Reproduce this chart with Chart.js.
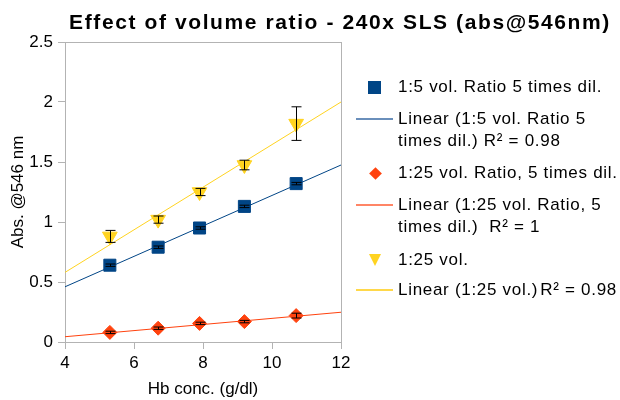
<!DOCTYPE html>
<html>
<head>
<meta charset="utf-8">
<script src="https://cdn.jsdelivr.net/npm/chart.js@4/dist/chart.umd.min.js"></script>
<style>
  html, body { margin: 0; padding: 0; background: #fff; }
  #wrap { position: relative; width: 620px; height: 400px; overflow: hidden;
          font-family: "Liberation Sans", Arial, sans-serif; color: #000; }
  #chart { position: absolute; left: 0; top: 0; }
  #title { position: absolute; left: 0; width: 680px; top: 10px; text-align: center;
           font-weight: bold; font-size: 21px; line-height: 24px; letter-spacing: 1.6px; }
  .item { position: absolute; left: 398px; font-size: 17px; line-height: 22px;
          letter-spacing: 0.7px; white-space: nowrap; }
  .mk { position: absolute; }
</style>
</head>
<body>
<div id="wrap">
  <canvas id="chart" width="620" height="400"></canvas>
  <div id="title">Effect of volume ratio - 240x SLS (abs@546nm)</div>
  <div id="legend"></div>
</div>
<script>
// data
const hb = [5.3, 6.7, 7.9, 9.2, 10.7];
const ratio5 = [0.64, 0.79, 0.95, 1.13, 1.32];
const ratio5Err = [0.01, 0.01, 0.01, 0.01, 0.01];
const ratio25dil = [0.08, 0.115, 0.155, 0.17, 0.22];
const ratio25dilErr = [0.01, 0.01, 0.01, 0.01, 0.02];
const ratio25 = [0.88, 1.02, 1.25, 1.475, 1.82];
const ratio25Err = [0.05, 0.03, 0.03, 0.04, 0.14];

// trend line end points (x = 4 and x = 12)
const trendX = [4, 12];
const trend5 = [0.46, 1.475];
const trend25dil = [0.044, 0.248];
const trend25 = [0.58, 2.0];

const blue = "#004586", red = "#ff420e", yellow = "#ffd320";

function pts(xs, ys) {
    return xs.map((x, i) => ({ x: x, y: ys[i] }));
}

// border round the plot area
const frame = {
    id: "frame",
    beforeDatasetsDraw(chart) {
        const a = chart.chartArea, ctx = chart.ctx;
        ctx.save();
        ctx.strokeStyle = "#b3b3b3";
        ctx.lineWidth = 1;
        ctx.strokeRect(a.left + 0.5, a.top + 0.5, a.right - a.left, a.bottom - a.top);
        ctx.restore();
    }
};

// vertical error bars
const errorBars = {
    id: "errorBars",
    afterDatasetsDraw(chart) {
        const ctx = chart.ctx, xs = chart.scales.x, ys = chart.scales.y;
        ctx.save();
        ctx.strokeStyle = "#000";
        ctx.lineWidth = 1;
        chart.data.datasets.forEach(ds => {
            if (!ds.err) return;
            ds.data.forEach((p, i) => {
                const px = Math.round(xs.getPixelForValue(p.x)) + 0.5;
                const top = ys.getPixelForValue(p.y + ds.err[i]);
                const bot = ys.getPixelForValue(p.y - ds.err[i]);
                ctx.beginPath();
                ctx.moveTo(px, top); ctx.lineTo(px, bot);
                ctx.moveTo(px - 5, top); ctx.lineTo(px + 5, top);
                ctx.moveTo(px - 5, bot); ctx.lineTo(px + 5, bot);
                ctx.stroke();
            });
        });
        ctx.restore();
    }
};

const font = { family: "'Liberation Sans', Arial, sans-serif", size: 17 };

new Chart(document.getElementById("chart"), {
    type: "scatter",
    data: {
        datasets: [
            { data: pts(hb, ratio5), err: ratio5Err, pointStyle: "rect", pointRadius: 8.5,
              backgroundColor: blue, borderColor: blue, borderWidth: 1, order: 0 },
            { data: pts(hb, ratio25dil), err: ratio25dilErr, pointStyle: "rectRot", pointRadius: 7,
              backgroundColor: red, borderColor: red, borderWidth: 1, order: 0 },
            { data: pts(hb, ratio25), err: ratio25Err, pointStyle: "triangle", rotation: 180, pointRadius: 8.5,
              backgroundColor: yellow, borderColor: yellow, borderWidth: 1, order: 0 },
            { data: pts(trendX, trend5), showLine: true, pointRadius: 0, borderColor: blue, borderWidth: 1, order: 1 },
            { data: pts(trendX, trend25dil), showLine: true, pointRadius: 0, borderColor: red, borderWidth: 1, order: 1 },
            { data: pts(trendX, trend25), showLine: true, pointRadius: 0, borderColor: yellow, borderWidth: 1, order: 1 }
        ]
    },
    options: {
        responsive: false,
        animation: false,
        layout: { padding: { top: 42, right: 279, left: 0, bottom: 0 } },
        plugins: { legend: { display: false }, tooltip: { enabled: false } },
        scales: {
            x: {
                type: "linear", min: 4, max: 12,
                ticks: { stepSize: 2, color: "#000", font: font, padding: 4 },
                grid: { drawOnChartArea: false, color: "#b3b3b3", tickLength: 7 },
                border: { color: "#b3b3b3" },
                title: { display: true, text: "Hb conc. (g/dl)", color: "#000", font: font, padding: 0 },
                afterFit(s) { s.height = 58; }
            },
            y: {
                min: 0, max: 2.5,
                ticks: { stepSize: 0.5, color: "#000", font: font, padding: 5,
                         callback: v => String(v) },
                grid: { drawOnChartArea: false, color: "#b3b3b3", tickLength: 7 },
                border: { color: "#b3b3b3" },
                title: { display: true, text: "Abs. @546 nm", color: "#000", font: font, padding: { top: 8, bottom: 0 } },
                afterFit(s) { s.width = 65; }
            }
        }
    },
    plugins: [frame, errorBars]
});

// legend, built as html so the long names can wrap like the original
const legendItems = [
    { kind: "square", color: blue, y: 87, text: "1:5 vol. Ratio 5 times dil." },
    { kind: "line", color: "#6a8fbb", y: 119, text: "Linear (1:5 vol. Ratio 5<br>times dil.) R² = 0.98" },
    { kind: "diamond", color: red, y: 173, text: "1:25 vol. Ratio, 5 times dil." },
    { kind: "line", color: "#ff8566", y: 205, text: "Linear (1:25 vol. Ratio, 5<br>times dil.)&nbsp; R² = 1" },
    { kind: "tri", color: yellow, y: 260, text: "1:25 vol." },
    { kind: "line", color: "#ffd84a", y: 290, text: "Linear (1:25 vol.)&#8202;R² = 0.98" }
];
const lg = document.getElementById("legend");
legendItems.forEach(it => {
    const t = document.createElement("div");
    t.className = "item";
    t.style.top = (it.y - 11) + "px";
    t.innerHTML = it.text;
    lg.appendChild(t);
    const m = document.createElement("div");
    m.className = "mk";
    if (it.kind === "square") {
        Object.assign(m.style, { left: "368px", top: (it.y - 6) + "px", width: "13px", height: "13px", background: it.color });
    } else if (it.kind === "diamond") {
        Object.assign(m.style, { left: "371px", top: (it.y - 4) + "px", width: "9px", height: "9px", background: it.color, transform: "rotate(45deg)" });
    } else if (it.kind === "tri") {
        Object.assign(m.style, { left: "369px", top: (it.y - 6) + "px", width: "0", height: "0",
            borderLeft: "6.5px solid transparent", borderRight: "6.5px solid transparent", borderTop: "12px solid " + it.color });
    } else {
        Object.assign(m.style, { left: "356px", top: (it.y - 1) + "px", width: "37px", height: "2px", background: it.color });
    }
    lg.appendChild(m);
});
</script>
</body>
</html>
